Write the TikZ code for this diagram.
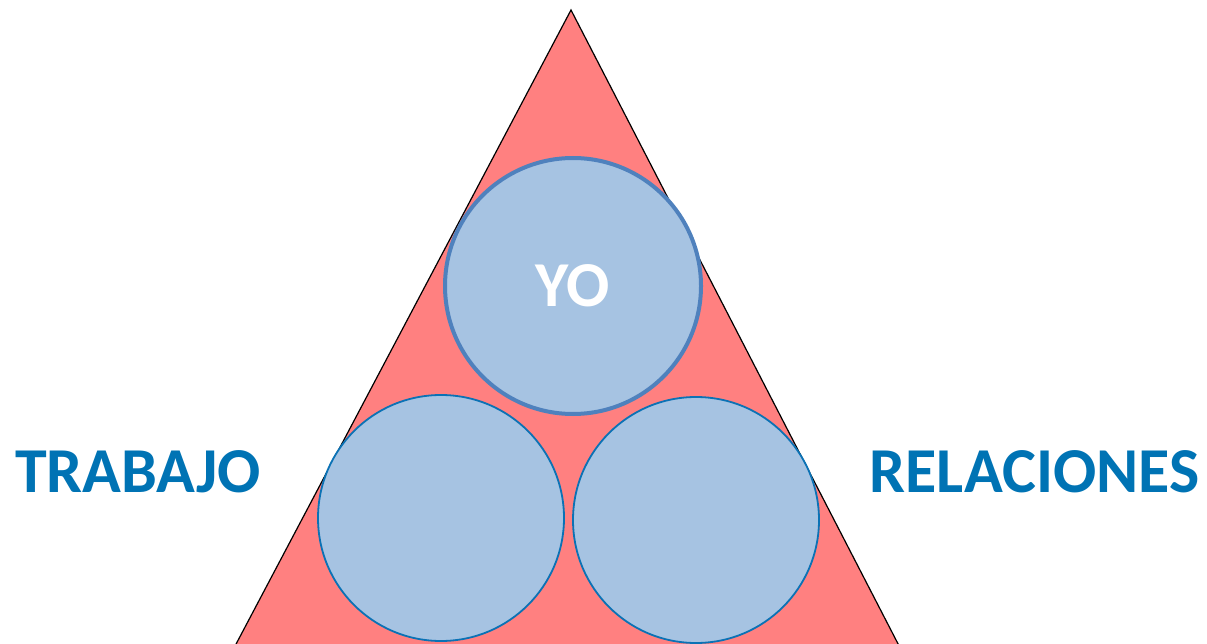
\documentclass[tikz,border=0pt]{standalone}
\usepackage{fontspec}
\setmainfont{Carlito}
\definecolor{tripink}{HTML}{FF8080}
\definecolor{ballfill}{HTML}{A6C3E2}
\definecolor{balltop}{HTML}{4F81BD}
\definecolor{ballline}{HTML}{0B72B5}
\definecolor{wordblue}{HTML}{0073B4}
\tikzset{
  ball/.style={circle,draw=ballline,fill=ballfill,line width=1.8pt,minimum size=246pt,inner sep=0pt},
  word/.style={text=wordblue,font=\fontsize{64}{64}\selectfont\bfseries,anchor=base}
}
\begin{document}
\begin{tikzpicture}[x=1pt,y=-1pt]
        \useasboundingbox (0,0) rectangle (1207,644);
        \clip (0,0) rectangle (1207,644);
        \coordinate (apex) at (571,10);
        \coordinate (bl) at (206.5,700);
        \coordinate (br) at (927,700);
        \draw[fill=tripink,line width=1.2pt,line join=miter] (bl) -- (apex) -- (br);
        \node[ball] (left) at (441,518) {};
        \node[ball] (right) at (696,520) {};
        \node[ball,draw=balltop,line width=4pt,minimum size=256pt,text=white,font=\fontsize{64}{64}\selectfont\bfseries] (yo) at (573,286) {YO};
        \node[word] (trabajo) at (138,492) {TRABAJO};
        \node[word] (relaciones) at (1034.5,492) {RELACIONES};
    \end{tikzpicture}
\end{document}
